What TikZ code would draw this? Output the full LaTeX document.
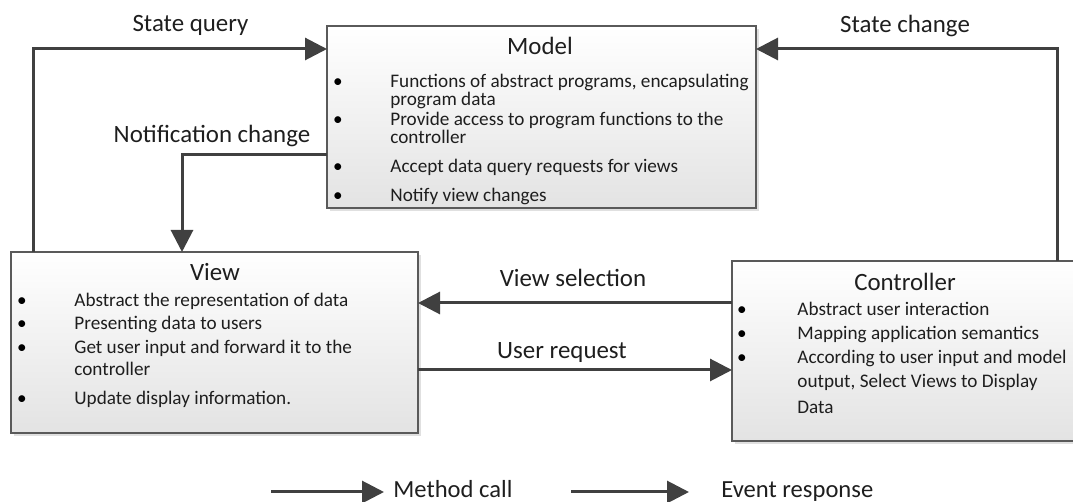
\documentclass[tikz,border=0pt]{standalone}
\usepackage{fontspec}
\setmainfont{Carlito}
\usetikzlibrary{arrows.meta,shadows}
\definecolor{flowgray}{HTML}{404040}
\definecolor{edgegray}{HTML}{5A5A5A}
\definecolor{inkgray}{HTML}{1E1E1E}
\tikzset{
  box/.style={draw=edgegray, line width=0.6pt, rectangle, inner sep=0pt, outer sep=0pt,
    top color=white, bottom color=black!11,
    drop shadow={shadow xshift=1.4pt, shadow yshift=-1.4pt, fill=black!30, opacity=0.4}},
  flow/.style={draw=flowgray, line width=1.5pt, -{Triangle[length=11pt,width=11pt]}},
  lbl/.style={font=\fontsize{12.45pt}{14pt}\selectfont, text=inkgray, inner sep=0pt, anchor=base},
  ttl/.style={font=\fontsize{12.45pt}{14pt}\selectfont, text=inkgray, inner sep=0pt, anchor=base},
  itm/.style={font=\fontsize{9.6pt}{11pt}\selectfont, text=inkgray, inner sep=0pt, anchor=base west},
  dot/.style={font=\fontsize{9.6pt}{11pt}\selectfont, inner sep=0pt, anchor=base},
  leg/.style={font=\fontsize{12.3pt}{14pt}\selectfont, text=inkgray, inner sep=0pt, anchor=base west},
}
\begin{document}
\begin{tikzpicture}[x=0.5pt, y=-0.5pt]
\useasboundingbox (0,0) rectangle (1073,502);

% the three components (the controller runs off the right margin)
\node[box, minimum width=214.5pt, minimum height=91pt] (model) at (541.5,117) {};
\node[box, minimum width=203.5pt, minimum height=90.5pt] (view) at (214.5,342.5) {};
\node[box, minimum width=174pt, minimum height=90pt] (ctrl) at (906,351) {};

% Model contents
\node[ttl] (mt) at (540,55) {Model};
\node[dot] (mb1) at (338,88) {•};
\node[itm] (mi1) at (390,88) {Functions of abstract programs, encapsulating};
\node[itm] (mi1b) at (390,106) {program data};
\node[dot] (mb2) at (338,126) {•};
\node[itm] (mi2) at (390,126) {Provide access to program functions to the};
\node[itm] (mi2b) at (390,144) {controller};
\node[dot] (mb3) at (338,173) {•};
\node[itm] (mi3) at (390,173) {Accept data query requests for views};
\node[dot] (mb4) at (338,202) {•};
\node[itm] (mi4) at (390,202) {Notify view changes};

% View contents
\node[ttl] (vt) at (215,281) {View};
\node[dot] (vb1) at (22,307) {•};
\node[itm] (vi1) at (74,307) {Abstract the representation of data};
\node[dot] (vb2) at (22,330) {•};
\node[itm] (vi2) at (74,330) {Presenting data to users};
\node[dot] (vb3) at (22,354) {•};
\node[itm] (vi3) at (74,354) {Get user input and forward it to the};
\node[itm] (vi3b) at (74,376) {controller};
\node[dot] (vb4) at (22,405) {•};
\node[itm] (vi4) at (74,405) {Update display information.};

% Controller contents
\node[ttl] (ct) at (905,291) {Controller};
\node[dot] (cb1) at (742,316) {•};
\node[itm] (ci1) at (797,316) {Abstract user interaction};
\node[dot] (cb2) at (742,340) {•};
\node[itm] (ci2) at (797,340) {Mapping application semantics};
\node[dot] (cb3) at (742,364) {•};
\node[itm] (ci3) at (797,364) {According to user input and model};
\node[itm] (ci3b) at (797,388) {output, Select Views to Display};
\node[itm] (ci3c) at (797,414) {Data};

% routing points of the connectors
\coordinate (sq) at (33,49);
\coordinate (nc) at (182,155);
\coordinate (sc) at (1057,49);
\coordinate (vs) at (0,303);
\coordinate (ur) at (0,370);

% connectors
\draw[flow] (view.north -| sq) |- (model.west |- sq);
\draw[flow] (model.west |- nc) -| (view.north -| nc);
\draw[flow] (ctrl.north -| sc) |- (model.east |- sc);
\draw[flow] (ctrl.west |- vs) -- (view.east |- vs);
\draw[flow] (view.east |- ur) -- (ctrl.west |- ur);

% connector labels
\node[lbl] (lsq) at (190.5,32) {State query};
\node[lbl] (lnc) at (212,143) {Notification change};
\node[lbl] (lsc) at (905,33) {State change};
\node[lbl] (lvs) at (573,287) {View selection};
\node[lbl] (lur) at (562,359) {User request};

% legend
\coordinate (la1) at (271,492);
\coordinate (la2) at (384,492);
\coordinate (lb1) at (571,492);
\coordinate (lb2) at (689,492);
\draw[flow] (la1) -- (la2);
\draw[flow] (lb1) -- (lb2);
\node[leg] (lmc) at (393,498) {Method call};
\node[leg] (ler) at (721,498) {Event response};
\end{tikzpicture}
\end{document}
